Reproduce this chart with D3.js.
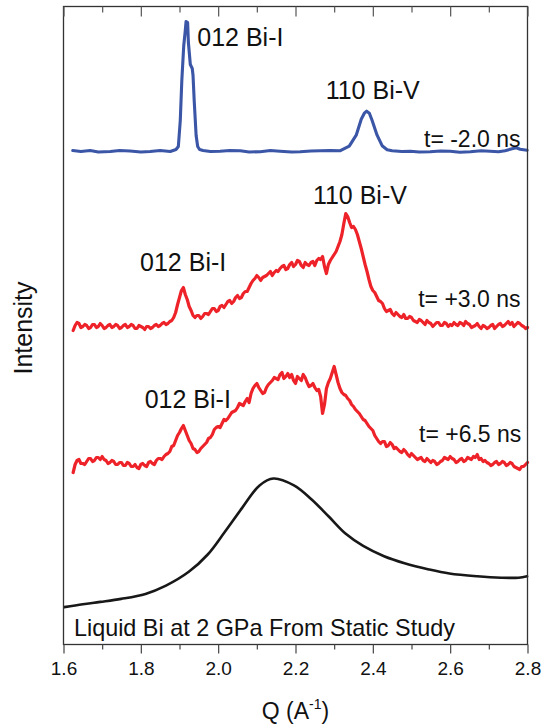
<!DOCTYPE html>
<html><head><meta charset="utf-8">
<script src="https://cdn.jsdelivr.net/npm/d3@7"></script>
<style>
html,body{margin:0;padding:0;background:#fff}
svg{display:block}
text{font-family:"Liberation Sans",Arial,Helvetica,sans-serif;fill:#111}
</style>
</head><body>
<svg id="chart" width="542" height="727"></svg>
<script>
// Q values (A^-1) and intensities (arb. units, traces stacked with offsets)
const qBlue=[1.624,1.645,1.669,1.69,1.721,1.745,1.772,1.80,1.824,1.85,1.876,1.891,1.897,1.902,1.906,1.911,1.915,1.917,1.921,1.923,1.928,1.933,1.935,1.938,1.943,1.947,1.952,1.961,1.98,2.005,2.03,2.057,2.08,2.109,2.135,2.16,2.19,2.212,2.24,2.264,2.29,2.316,2.339,2.357,2.370,2.378,2.384,2.391,2.398,2.411,2.424,2.437,2.450,2.475,2.497,2.52,2.548,2.575,2.600,2.625,2.652,2.68,2.703,2.725,2.742,2.760,2.771,2.781,2.799];
const iBlue=[494,493,494,492.5,493,494,493.5,492.5,493,494,493,495,498,524,564,599,614,623,622,602,580,576,569,544,509,498,495,494,493,493.3,494,493.8,492.5,492.8,494,493.3,492.5,492.8,493.5,493.8,494,493.8,498.3,509.3,525.3,531.3,533.3,531.3,524.3,509.3,498.8,494.8,493.8,493,493.3,492.5,492.8,493.5,493.3,492.3,492.8,493.8,493.3,492.8,493.8,495.8,496.8,495.3,494.3];

const qRed=[1.625,1.63,1.64,1.65,1.66,1.67,1.68,1.69,1.70,1.71,1.72,1.73,1.74,1.75,1.76,1.77,1.78,1.79,1.80,1.81,1.82,1.83,1.84,1.85,1.86,1.87,1.88,1.89,1.90,1.91,1.92,1.93,1.94,1.95,1.96,1.97,1.98,1.99,2.00,2.01,2.02,2.03,2.04,2.05,2.06,2.07,2.08,2.09,2.10,2.11,2.12,2.13,2.14,2.15,2.16,2.17,2.18,2.19,2.20,2.21,2.22,2.23,2.24,2.25,2.26,2.27,2.28,2.29,2.30,2.31,2.32,2.33,2.34,2.35,2.36,2.37,2.38,2.39,2.40,2.41,2.42,2.43,2.44,2.45,2.46,2.47,2.48,2.49,2.50,2.51,2.52,2.53,2.54,2.55,2.56,2.57,2.58,2.59,2.60,2.61,2.62,2.63,2.64,2.65,2.66,2.67,2.68,2.69,2.70,2.71,2.72,2.73,2.74,2.75,2.76,2.77,2.78,2.79,2.80];
const qRedHalf=[1.635,1.645,1.655,1.665,1.675,1.685,1.695,1.705,1.715,1.725,1.735,1.745,1.755,1.765,1.775,1.785,1.795,1.805,1.815,1.825,1.835,1.845,1.855,1.865,1.875,1.885,1.895,1.905,1.915,1.925,1.935,1.945,1.955,1.965,1.975,1.985,1.995,2.005,2.015,2.025,2.035,2.045,2.055,2.065,2.075,2.085,2.095,2.105,2.115,2.125,2.135,2.145,2.155,2.165,2.175,2.185,2.195,2.205,2.215,2.225,2.235,2.245,2.255,2.265,2.275,2.285,2.295,2.305,2.315,2.325,2.335,2.345,2.355,2.365,2.375,2.385,2.395,2.405,2.415,2.425,2.435,2.445,2.455,2.465,2.475,2.485,2.495,2.505,2.515,2.525,2.535,2.545,2.555,2.565,2.575,2.585,2.595,2.605,2.615,2.625,2.635,2.645,2.655,2.665,2.675,2.685,2.695,2.705,2.715,2.725,2.735,2.745,2.755,2.765,2.775,2.785,2.795];

const iRed3=[314,319,321,318,319,317,320,318,319,317,320,318,319,317,320,318,319,316,318,315,318,317,320,319,322,321,324,332,347,357,345,334,327,329,328,331,333,336,334,339,340,344,343,349,347,353,357,364,369,364,368,371,369,374,376,379,376,382,380,383,377,380,382,379,386,388,371,384,390,398,410,431,422,418,410,396,380,365,354,348,343,336,334,331,332,328,330,326,327,323,325,322,324,321,320,322,319,321,320,322,319,321,323,320,318,321,316,318,317,320,318,321,319,323,322,320,321,318,317];
const iRed3Half=[322,317,320,316,320,317,321,316,319,317,320,316,319,317,320,316,319,317,318,316,319,318,321,320,323,327,340,354,350,338,329,329,326,331,330,336,333,338,337,343,341,347,346,351,353,361,366,367,367,369,373,372,373,378,375,380,378,384,379,382,379,383,384,385,378,380,387,393,403,421,428,417,415,403,388,373,358,352,344,341,333,335,329,330,327,326,328,324,322,324,320,322,318,322,319,322,318,319,320,322,319,321,317,319,318,319,316,319,316,320,318,321,320,318,322,319,316];

const iRed65=[172,180,185,181,183,186,184,187,188,184,182,183,180,182,179,181,178,177,180,179,182,181,184,186,188,191,198,204,212,219,209,201,195,193,198,202,207,215,218,221,224,229,233,237,240,243,242,256,261,254,252,260,264,266,270,266,271,270,261,266,270,262,259,257,255,231,256,266,278,262,252,249,244,238,233,228,224,218,214,206,201,203,199,200,197,193,195,190,191,187,186,184,186,182,183,181,184,186,188,185,183,186,184,186,188,190,186,184,181,180,183,181,182,180,181,177,175,178,182];
const iRed65Half=[184,181,180,186,183,187,185,185,181,184,180,182,179,182,178,180,176,181,178,183,180,186,185,190,193,199,209,216,214,204,196,192,196,200,206,210,217,217,225,226,232,234,241,239,246,251,259,257,251,257,262,267,265,272,268,267,264,268,264,267,258,261,254,248,240,262,272,270,256,250,246,240,235,231,225,221,216,209,203,203,198,202,196,195,192,193,188,189,185,187,183,184,184,180,183,187,185,186,182,185,183,187,185,187,185,183,182,179,182,180,183,179,182,178,176,178,180];

const qLiquid=[1.602,1.650,1.695,1.749,1.812,1.865,1.924,1.973,2.017,2.062,2.107,2.143,2.196,2.241,2.286,2.330,2.375,2.429,2.482,2.545,2.598,2.670,2.732,2.777,2.799];
const iLiquid=[37.4,40.3,42.6,45.6,50.6,58.9,72.7,90,112.5,136.6,159.1,166,159.1,145.3,128,110.7,98.6,88.3,81.3,75.1,71,68.2,66.8,66.8,68.2];

const majorTicks=[1.6,1.8,2.0,2.2,2.4,2.6,2.8];
const tickLabels=["1.6","1.8","2.0","2.2","2.4","2.6","2.8"];
const minorTicks=[1.7,1.9,2.1,2.3,2.5,2.7];

const annoText=["012 Bi-I","110 Bi-V","t= -2.0 ns","110 Bi-V","012 Bi-I","t= +3.0 ns","012 Bi-I","t= +6.5 ns","Liquid Bi at 2 GPa From Static Study"];
const annoQ=[1.946,2.278,2.782,2.245,1.798,2.782,1.810,2.784,1.627];
const annoI=[599,546,497.8,440.8,373.3,337.8,236.9,202.3,8.3];
const annoSize=[25,25,23,25,25,23,25,23,23.4];
const annoAnchor=["start","start","end","start","start","end","start","end","start"];

const L=63.5,R=527.5,T=6.5,B=644.5;
const svg=d3.select("#chart");
const x=d3.scaleLinear().domain([1.6,2.8]).range([L,R]);
const y=d3.scaleLinear().domain([0,638]).range([B,T]);

const line=d3.line().x(d=>x(d[0])).y(d=>y(d[1]));
const zip=(a,b)=>a.slice(0,Math.min(a.length,b.length)).map((v,i)=>[v,b[i]]);
const merge=(...pairs)=>pairs.flat().sort((a,b)=>a[0]-b[0]);

const series=[
 {pts:zip(qLiquid,iLiquid),color:"#181818",w:2.6,curve:d3.curveCatmullRom},
 {pts:merge(zip(qRed,iRed65),zip(qRedHalf,iRed65Half)),color:"#ee2229",w:3.2,curve:d3.curveLinear},
 {pts:merge(zip(qRed,iRed3),zip(qRedHalf,iRed3Half)),color:"#ee2229",w:3.2,curve:d3.curveLinear},
 {pts:zip(qBlue,iBlue),color:"#3b56a6",w:3.1,curve:d3.curveLinear}
];
const gLines=svg.append("g");
series.forEach(s=>{
  gLines.append("path").datum(s.pts)
   .attr("fill","none").attr("stroke",s.color).attr("stroke-width",s.w)
   .attr("stroke-linejoin","round").attr("stroke-linecap","round")
   .attr("d",line.curve(s.curve));
});

// frame
svg.append("rect").attr("x",L).attr("y",T).attr("width",R-L).attr("height",B-T)
  .attr("fill","none").attr("stroke","#333").attr("stroke-width",1.3);

// bottom axis (ticks outward)
const gB=svg.append("g").attr("transform",`translate(0,${B})`)
  .call(d3.axisBottom(x).tickValues(majorTicks).tickFormat((d,i)=>tickLabels[i]).tickSize(9).tickPadding(8).tickSizeOuter(0));
gB.select(".domain").remove();
gB.selectAll("text").attr("font-size",19).attr("font-family",'"Liberation Sans",Arial,sans-serif').attr("fill","#111");
gB.selectAll("line").attr("stroke","#444").attr("stroke-width",1.2);
const gBm=svg.append("g").attr("transform",`translate(0,${B})`)
  .call(d3.axisBottom(x).tickValues(minorTicks).tickFormat("").tickSize(5).tickSizeOuter(0));
gBm.select(".domain").remove();
gBm.selectAll("line").attr("stroke","#444").attr("stroke-width",1.2);

// top axis (ticks inward)
const gT=svg.append("g").attr("transform",`translate(0,${T})`)
  .call(d3.axisBottom(x).tickValues(majorTicks).tickFormat("").tickSize(10).tickSizeOuter(0));
gT.select(".domain").remove();
gT.selectAll("line").attr("stroke","#555").attr("stroke-width",1.2);
const gTm=svg.append("g").attr("transform",`translate(0,${T})`)
  .call(d3.axisBottom(x).tickValues(minorTicks).tickFormat("").tickSize(6).tickSizeOuter(0));
gTm.select(".domain").remove();
gTm.selectAll("line").attr("stroke","#555").attr("stroke-width",1.2);

// annotations
annoText.forEach((t,k)=>{
  svg.append("text").attr("x",x(annoQ[k])).attr("y",y(annoI[k]))
   .attr("font-size",annoSize[k]).attr("text-anchor",annoAnchor[k]).text(t);
});

// axis titles
const qt=svg.append("text").attr("x",(L+R)/2).attr("y",719).attr("text-anchor","middle").attr("font-size",23);
qt.append("tspan").text("Q (A");
qt.append("tspan").attr("font-size",14).attr("dy",-10).text("-1");
qt.append("tspan").attr("dy",10).text(")");

svg.append("text").attr("transform","translate(32,328) rotate(-90)")
  .attr("text-anchor","middle").attr("font-size",25).text("Intensity");
</script>
</body></html>
